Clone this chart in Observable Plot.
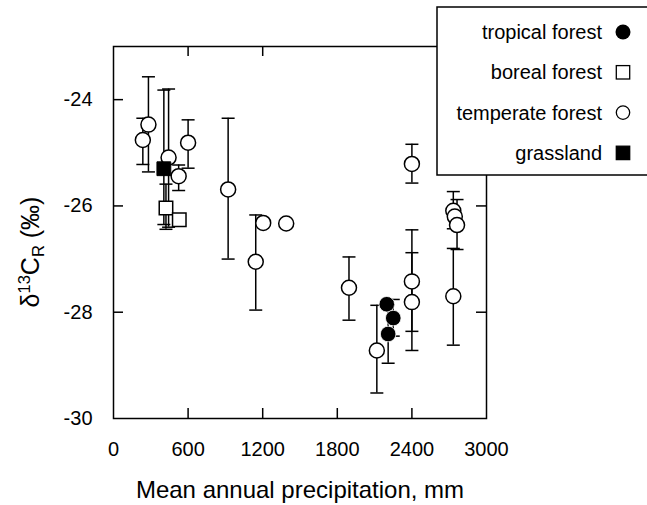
<!DOCTYPE html>
<html><head><meta charset="utf-8">
<script src="https://cdn.jsdelivr.net/npm/d3@7"></script>
<script src="https://cdn.jsdelivr.net/npm/@observablehq/plot@0.6"></script>
<style>html,body{margin:0;padding:0;background:#fff;overflow:hidden}</style>
</head><body><div id="chart"></div>
<script>
// ---- data ----
const biome  = ["temperate","temperate","temperate","temperate","temperate","temperate","temperate","temperate","temperate",
                "temperate","temperate","temperate","temperate","temperate","temperate","temperate","temperate","temperate",
                "boreal","boreal","grassland","tropical","tropical","tropical"];
const precip = [236, 281, 443, 524, 600, 922, 1144, 1204, 1389,
                1894, 2118, 2400, 2400, 2400, 2733, 2745, 2763, 2733,
                422, 529, 405, 2198, 2250, 2209];
const d13c   = [-24.76, -24.47, -25.09, -25.44, -24.81, -25.69, -27.05, -26.32, -26.33,
                -27.54, -28.72, -25.21, -27.42, -27.81, -26.09, -26.20, -26.36, -27.70,
                -26.04, -26.26, -25.30, -27.85, -28.11, -28.41];
const errLo  = [-25.22, -25.36, -26.40, -25.71, -25.29, -27.00, -27.96, null, null,
                -28.15, -29.52, -25.57, -28.36, -28.72, -26.43, null, -26.82, -28.62,
                -26.44, null, -26.35, null, -28.45, -28.96];
const errHi  = [-24.35, -23.57, -23.80, -25.23, -24.38, -24.35, -26.17, null, null,
                -26.96, -27.87, -24.84, -26.45, -26.88, -25.73, null, -25.88, -26.80,
                -25.59, null, -23.82, null, -27.76, -27.86];
const xTicks = [0, 600, 1200, 1800, 2400, 3000];
const xTopTicks = [600, 1200];
const yTicks = [-30, -28, -26, -24];
const legendLabels = ["tropical forest", "boreal forest", "temperate forest", "grassland"];
const legendKeys = ["tropical", "boreal", "temperate", "grassland"];
const xTitle = "Mean annual precipitation, mm";

// ---- build table ----
const data = precip.map((x, i) => ({x, y: d13c[i], lo: errLo[i], hi: errHi[i], biome: biome[i]}));
const bars = data.filter(d => d.lo != null);
const W = 647, H = 505, mL = 113, mR = 161, mT = 46, mB = 87;
const pw = W - mL - mR, ph = H - mT - mB;
const FONT = "'Liberation Sans', Arial, Helvetica, sans-serif";
const cap = {draw(ctx, size) { const r = Math.sqrt(size / Math.PI); ctx.moveTo(-r, 0); ctx.lineTo(r, 0); }};
const interiorX = xTicks.filter(v => v > xTicks[0] && v < xTicks[xTicks.length - 1]);
const interiorY = yTicks.filter(v => v > -30);

function yLabel() {
  const t = d3.create("svg:text")
    .attr("transform", "translate(39,252) rotate(-90)")
    .attr("text-anchor", "middle").attr("font-size", 25).attr("fill", "black");
  t.append("tspan").text("δ");
  t.append("tspan").attr("dy", -9).attr("font-size", 16.5).text("13");
  t.append("tspan").attr("dy", 9).text("C");
  t.append("tspan").attr("dy", 5).attr("font-size", 16.5).text("R");
  t.append("tspan").attr("dy", -5).text(" (‰)");
  return t.node();
}

function legend() {
  const g = d3.create("svg:g");
  const x0 = 437, y0 = 7;
  g.append("rect").attr("x", x0).attr("y", y0).attr("width", W - x0 + 10).attr("height", 168)
    .attr("fill", "white").attr("stroke", "black").attr("stroke-width", 1.5);
  legendLabels.forEach((lab, i) => {
    const cy = 32 + i * 40.3;
    g.append("text").attr("x", 602).attr("y", cy).attr("dy", "0.35em")
      .attr("text-anchor", "end").attr("font-size", 20).attr("fill", "black").text(lab);
    const k = legendKeys[i];
    if (k === "tropical") g.append("circle").attr("cx", 623).attr("cy", cy).attr("r", 7.5).attr("fill", "black");
    else if (k === "temperate") g.append("circle").attr("cx", 623).attr("cy", cy).attr("r", 6.7).attr("fill", "white").attr("stroke", "black").attr("stroke-width", 1.3);
    else g.append("rect").attr("x", 623 - 6.7).attr("y", cy - 6.7).attr("width", 13.4).attr("height", 13.4)
      .attr("fill", k === "grassland" ? "black" : "white").attr("stroke", "black").attr("stroke-width", 1.3);
  });
  return g.node();
}

const chart = Plot.plot({
  width: W, height: H,
  marginLeft: mL, marginRight: mR, marginTop: mT, marginBottom: mB,
  style: {fontFamily: FONT, fontSize: "20px", background: "white", color: "black"},
  x: {domain: [0, 3000], axis: null},
  y: {domain: [-30, -23], axis: null},
  marks: [
    Plot.text(xTicks, {x: d => d, text: d => String(d), frameAnchor: "bottom", dy: 23, lineAnchor: "top", fontSize: 20}),
    Plot.text(yTicks, {y: d => d, text: d => String(d), frameAnchor: "left", dx: -21, textAnchor: "end", fontSize: 20}),
    Plot.tickX(interiorX, {x: d => d, insetTop: ph - 10, stroke: "black", strokeWidth: 1.5}),
    Plot.tickX(xTopTicks, {x: d => d, insetBottom: ph - 10, stroke: "black", strokeWidth: 1.5}),
    Plot.tickY(interiorY, {y: d => d, insetRight: pw - 10, stroke: "black", strokeWidth: 1.5}),
    Plot.tickY(interiorY, {y: d => d, insetLeft: pw - 10, stroke: "black", strokeWidth: 1.5}),
    Plot.ruleX(bars, {x: "x", y1: "lo", y2: "hi", stroke: "black", strokeWidth: 1.5}),
    Plot.dot(bars, {x: "x", y: "hi", symbol: cap, r: 6.5, stroke: "black", fill: "none", strokeWidth: 1.5}),
    Plot.dot(bars, {x: "x", y: "lo", symbol: cap, r: 6.5, stroke: "black", fill: "none", strokeWidth: 1.5}),
    Plot.dot(data.filter(d => d.biome === "temperate"), {x: "x", y: "y", r: 7.5, symbol: "circle", fill: "white", stroke: "black", strokeWidth: 1.5}),
    Plot.dot(data.filter(d => d.biome === "boreal"), {x: "x", y: "y", r: 7.6, symbol: "square", fill: "white", stroke: "black", strokeWidth: 1.5}),
    Plot.dot(data.filter(d => d.biome === "grassland"), {x: "x", y: "y", r: 7.8, symbol: "square", fill: "black", stroke: "black", strokeWidth: 1}),
    Plot.dot(data.filter(d => d.biome === "tropical"), {x: "x", y: "y", r: 7.8, symbol: "circle", fill: "black", stroke: "white", strokeWidth: 0.8}),
    Plot.frame({stroke: "black", strokeWidth: 1.5}),
    Plot.text([xTitle], {frameAnchor: "bottom", dy: 79, lineAnchor: "bottom", fontSize: 24, text: d => d}),
    yLabel,
    legend
  ]
});
document.getElementById("chart").appendChild(chart);
</script>
</body></html>
